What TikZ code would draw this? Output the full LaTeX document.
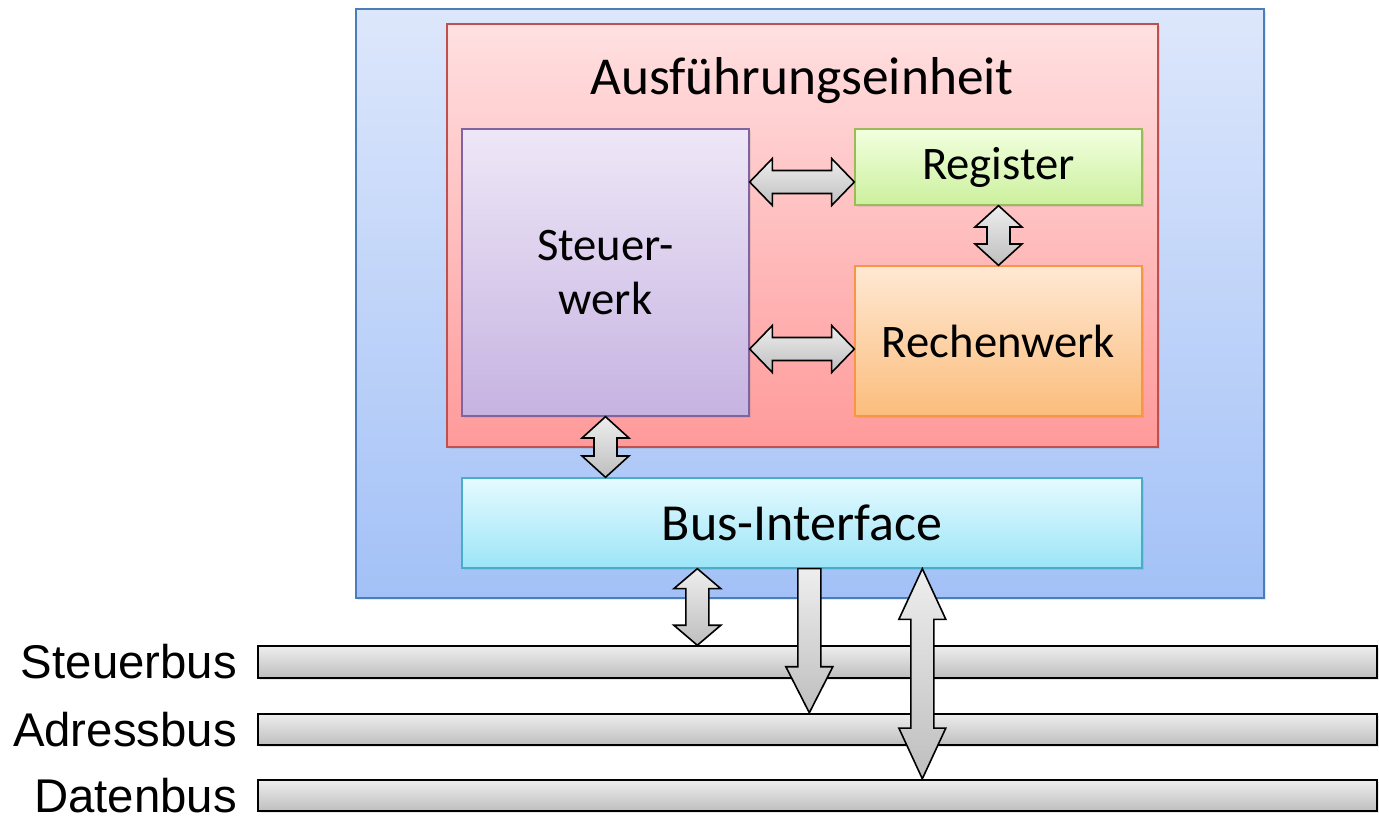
\documentclass[tikz,border=0pt]{standalone}
\usepackage{fontspec}
\setmainfont{Carlito}
\newfontfamily\busfont{Liberation Sans}
\usetikzlibrary{positioning,calc,shadows}

\definecolor{cpuTop}{HTML}{DDE7FB}
\definecolor{cpuBot}{HTML}{A3C1F7}
\definecolor{cpuLine}{HTML}{4A7EBB}
\definecolor{exeTop}{HTML}{FFE0E1}
\definecolor{exeBot}{HTML}{FF9A9A}
\definecolor{exeLine}{HTML}{C0504D}
\definecolor{ctlTop}{HTML}{EEE7F7}
\definecolor{ctlBot}{HTML}{C6B3E1}
\definecolor{ctlLine}{HTML}{8064A2}
\definecolor{regTop}{HTML}{F2FFDF}
\definecolor{regBot}{HTML}{CCF09E}
\definecolor{regLine}{HTML}{9BBB59}
\definecolor{aluTop}{HTML}{FFE8D3}
\definecolor{aluBot}{HTML}{FBBD7C}
\definecolor{aluLine}{HTML}{F79646}
\definecolor{biuTop}{HTML}{E5FAFF}
\definecolor{biuBot}{HTML}{9CE5F7}
\definecolor{biuLine}{HTML}{4BACC6}
\definecolor{arrTop}{HTML}{EEEEEE}
\definecolor{arrBot}{HTML}{BEBEBE}

\def\headhalf{17.6pt}
\def\shafthalf{8.6pt}

% fat double arrow: tip #1, tip #2, head length #3
\newcommand{\dblfat}[3]{%
  \path ($(#1)!#3!(#2)$) coordinate (ha) ($(#2)!#3!(#1)$) coordinate (hb);
  \draw[fatarrow] (#1) -- ($(ha)!\headhalf!90:(#1)$) -- ($(ha)!\shafthalf!90:(#1)$)
    -- ($(hb)!\shafthalf!-90:(#2)$) -- ($(hb)!\headhalf!-90:(#2)$) -- (#2)
    -- ($(hb)!\headhalf!90:(#2)$) -- ($(hb)!\shafthalf!90:(#2)$)
    -- ($(ha)!\shafthalf!-90:(#1)$) -- ($(ha)!\headhalf!-90:(#1)$) -- cycle;}
% fat single arrow: tail #1, tip #2, head length #3
\newcommand{\onefat}[3]{%
  \path ($(#2)!#3!(#1)$) coordinate (hb);
  \draw[fatarrow] ($(#1)!\shafthalf!90:(#2)$) -- ($(hb)!\shafthalf!90:(#2)$)
    -- ($(hb)!\headhalf!90:(#2)$) -- (#2) -- ($(hb)!\headhalf!-90:(#2)$)
    -- ($(hb)!\shafthalf!-90:(#2)$) -- ($(#1)!\shafthalf!-90:(#2)$) -- cycle;}

\tikzset{
  block/.style={draw, line width=1pt, inner sep=0pt, align=center,
    font=\fontsize{35}{41}\selectfont,
    drop shadow={opacity=.18, shadow xshift=1.5pt, shadow yshift=-1.5pt}},
  busbar/.style={draw=black, line width=1.5pt, inner sep=0pt,
    minimum width=839.25pt, minimum height=23.6pt,
    top color=arrTop, bottom color=arrBot,
    drop shadow={opacity=.18, shadow xshift=1.5pt, shadow yshift=-1.5pt}},
  buslabel/.style={inner sep=0pt, font=\busfont\fontsize{35.5}{40}\selectfont},
  fatarrow/.style={draw=black, line width=1.2pt, line join=miter,
    top color=arrTop, bottom color=arrBot},
}

\begin{document}
\begin{tikzpicture}[x=0.75pt,y=0.75pt,yscale=-1,xscale=1]
\useasboundingbox (0,0) rectangle (1379,816);

%Shape: Rectangle [cpu]
\node[block, minimum width=681pt, minimum height=441.75pt, draw=cpuLine,
  top color=cpuTop, bottom color=cpuBot] (cpu) at (810,303.5) {};
%Shape: Rectangle [execution unit]
\node[block, minimum width=533.25pt, minimum height=317.25pt, draw=exeLine,
  top color=exeTop, bottom color=exeBot] (exe) at (802.5,235.5) {};
% Text Node
\node[inner sep=0pt, anchor=base, font=\fontsize{40}{44}\selectfont] (ttl) at (802,95) {Ausführungseinheit};

%Shape: Rectangle [units]
\node[block, minimum width=215.25pt, minimum height=215.25pt, draw=ctlLine,
  top color=ctlTop, bottom color=ctlBot] (steuer) at (605.5,272.5) {Steuer-\\werk};
\node[block, minimum width=215.25pt, minimum height=57pt, draw=regLine,
  top color=regTop, bottom color=regBot] (reg) at (998.5,167) {Register};
\node[block, minimum width=215.25pt, minimum height=112.5pt, draw=aluLine,
  top color=aluTop, bottom color=aluBot] (rech) at (998.5,341) {Rechenwerk};
\node[block, minimum width=510pt, minimum height=67.5pt, draw=biuLine,
  top color=biuTop, bottom color=biuBot, font=\fontsize{39}{44}\selectfont] (bus) at (802,523) {Bus-Interface};

%Shape: Rectangle [bus lines]
\node[busbar] (sbus) at (817.5,662) {};
\node[busbar] (abus) at (817.5,729.5) {};
\node[busbar] (dbus) at (817.5,795.5) {};

% Text Node
\node[buslabel, left=15pt of sbus] (lsbus) {Steuerbus};
\node[buslabel, left=15pt of abus] (labus) {Adressbus};
\node[buslabel, left=15pt of dbus] (ldbus) {Datenbus};

%Fat arrows
\coordinate (a1) at ($(reg.west)+(0,15)$);
\coordinate (a0) at (steuer.east |- a1);
\dblfat{a0}{a1}{17pt}
\coordinate (r1) at ($(rech.west)+(0,8)$);
\coordinate (r0) at (steuer.east |- r1);
\dblfat{r0}{r1}{17pt}
\dblfat{reg.south}{rech.north}{16pt}
\coordinate (b1) at (steuer.south |- bus.north);
\dblfat{steuer.south}{b1}{16pt}

\coordinate (c0) at ($(bus.south west)+(236,0)$);
\coordinate (c1) at (c0 |- sbus.north);
\dblfat{c0}{c1}{15pt}
\coordinate (d0) at ($(bus.south west)+(348,0)$);
\coordinate (d1) at (d0 |- abus.north);
\onefat{d0}{d1}{34.5pt}
\coordinate (e0) at ($(bus.south west)+(461,0)$);
\coordinate (e1) at (e0 |- dbus.north);
\dblfat{e0}{e1}{38pt}

\end{tikzpicture}
\end{document}
